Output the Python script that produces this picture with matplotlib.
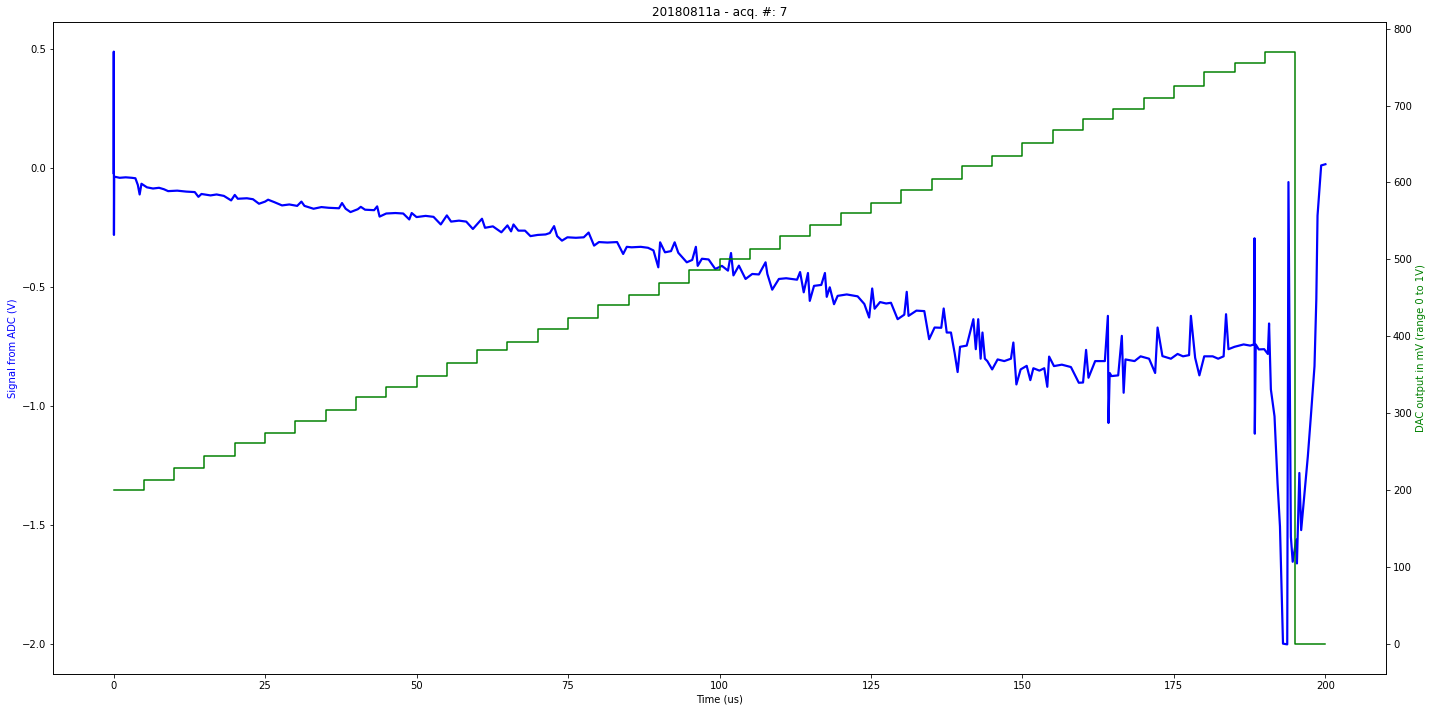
import matplotlib
matplotlib.use("Agg")
import matplotlib.pyplot as plt

# Blue ADC signal (time in us, value in V)
sig_t = [0.0, 0.03, 0.06, 0.1, 1.0, 2.0, 3.0, 3.6, 4.0, 4.3, 4.6, 5.5, 6.5, 7.5, 8.3,
         9.0, 10.5, 12.0, 13.4, 14.0, 14.5, 16.0, 17.0, 18.2, 19.4, 20.0, 20.5, 22.0,
         23.0, 24.0, 25.0, 25.5, 26.5, 27.8, 29.0, 30.3, 31.0, 31.5, 33.0, 34.3, 35.5,
         37.2, 37.7, 38.3, 39.1, 40.3, 40.8, 41.5, 43.0, 43.5, 43.9, 45.0, 46.5, 47.8,
         48.8, 49.2, 50.0, 51.5, 52.8, 54.0, 55.0, 55.7, 57.0, 58.2, 59.3, 60.8, 61.3,
         62.6, 64.0, 65.0, 65.6, 66.0, 66.8, 67.9, 68.8, 70.0, 71.3, 72.0, 72.7, 73.2,
         74.0, 74.9, 76.3, 77.6, 78.4, 79.3, 80.1, 81.5, 83.1, 84.1, 84.7, 85.5, 87.0,
         88.2, 89.1, 89.9, 90.2, 91.0, 92.0, 92.6, 93.2, 94.6, 95.5, 96.1, 96.4, 97.1,
         98.2, 99.3, 100.4, 101.4, 101.9, 102.3, 103.2, 104.3, 105.4, 106.5, 107.6,
         107.9, 108.7, 109.8, 111.0, 112.8, 113.3, 113.9, 114.6, 114.9, 115.6, 116.8,
         117.4, 117.7, 118.2, 118.9, 119.5, 121.0, 122.8, 123.9, 124.7, 125.2, 125.6,
         126.5, 127.5, 128.3, 129.4, 130.5, 130.9, 131.2, 132.5, 133.8, 134.6, 135.5,
         136.6, 137.0, 137.5, 138.2, 138.8, 139.3, 139.7, 140.8, 141.9, 142.3, 142.7,
         143.1, 143.4, 143.8, 144.2, 145.0, 145.9, 147.0, 148.1, 148.5, 149.0, 149.7,
         150.7, 151.3, 151.8, 152.8, 153.6, 154.1, 154.4, 155.2, 156.5, 158.0, 159.3,
         160.0, 160.5, 160.9, 162.0, 163.6, 164.1, 164.2, 164.4, 164.7, 165.8, 166.4,
         166.7, 167.0, 168.5, 169.5, 170.9, 171.9, 172.3, 173.1, 174.5, 175.6, 176.5,
         177.5, 177.8, 178.5, 179.2, 180.0, 181.4, 182.3, 183.2, 183.6, 184.0, 185.0,
         186.5, 187.6, 188.2, 188.3, 188.35, 188.5, 189.0, 189.9, 190.5, 190.7, 191.0,
         191.6, 192.1, 192.5, 193.0, 193.7, 193.9, 194.3, 194.6, 195.2, 195.3, 195.7,
         196.0, 196.5, 197.1, 197.6, 198.2, 198.5, 198.7, 199.3, 200.0]
sig_v = [-0.02, 0.49, -0.28, -0.035, -0.04, -0.038, -0.04, -0.042, -0.07, -0.11, -0.065,
         -0.08, -0.085, -0.082, -0.088, -0.096, -0.094, -0.098, -0.1, -0.12, -0.108,
         -0.114, -0.11, -0.116, -0.135, -0.112, -0.128, -0.126, -0.13, -0.149, -0.14,
         -0.132, -0.142, -0.156, -0.152, -0.158, -0.14, -0.158, -0.17, -0.163, -0.166,
         -0.168, -0.146, -0.17, -0.184, -0.172, -0.162, -0.174, -0.176, -0.16, -0.203,
         -0.19, -0.188, -0.19, -0.215, -0.188, -0.205, -0.2, -0.204, -0.236, -0.198,
         -0.224, -0.22, -0.224, -0.255, -0.212, -0.25, -0.244, -0.269, -0.24, -0.265,
         -0.236, -0.262, -0.262, -0.285, -0.28, -0.278, -0.272, -0.243, -0.285, -0.304,
         -0.29, -0.292, -0.29, -0.27, -0.325, -0.31, -0.312, -0.31, -0.36, -0.33, -0.332,
         -0.33, -0.334, -0.345, -0.416, -0.311, -0.353, -0.348, -0.311, -0.355, -0.395,
         -0.385, -0.33, -0.41, -0.38, -0.383, -0.423, -0.41, -0.43, -0.356, -0.45, -0.409,
         -0.465, -0.444, -0.446, -0.395, -0.444, -0.51, -0.465, -0.462, -0.468, -0.436,
         -0.521, -0.44, -0.557, -0.494, -0.49, -0.44, -0.54, -0.5, -0.571, -0.536, -0.53,
         -0.538, -0.57, -0.627, -0.505, -0.59, -0.562, -0.568, -0.565, -0.634, -0.615,
         -0.519, -0.62, -0.598, -0.6, -0.718, -0.669, -0.67, -0.589, -0.69, -0.69, -0.775,
         -0.856, -0.75, -0.745, -0.634, -0.76, -0.634, -0.8, -0.69, -0.8, -0.81, -0.845,
         -0.803, -0.81, -0.8, -0.732, -0.908, -0.845, -0.83, -0.89, -0.84, -0.85, -0.84,
         -0.918, -0.791, -0.831, -0.825, -0.835, -0.901, -0.9, -0.763, -0.88, -0.81,
         -0.81, -0.62, -1.07, -0.86, -0.873, -0.87, -0.704, -0.943, -0.803, -0.81, -0.79,
         -0.8, -0.86, -0.669, -0.789, -0.8, -0.78, -0.79, -0.785, -0.62, -0.796, -0.87,
         -0.79, -0.79, -0.8, -0.79, -0.613, -0.76, -0.75, -0.74, -0.745, -0.74, -0.294,
         -1.115, -0.74, -0.761, -0.76, -0.78, -0.652, -0.929, -1.042, -1.323, -1.505,
         -1.997, -2.0, -0.058, -1.548, -1.653, -1.56, -1.66, -1.28, -1.52, -1.379, -1.21,
         -1.042, -0.831, -0.55, -0.199, 0.012, 0.017]

# Green DAC output steps (mV), one value per 5 us interval
dac_t = [0, 5, 10, 15, 20, 25, 30, 35, 40, 45, 50, 55, 60, 65, 70, 75, 80, 85, 90, 95,
         100, 105, 110, 115, 120, 125, 130, 135, 140, 145, 150, 155, 160, 165, 170, 175,
         180, 185, 190, 195, 200]
dac_v = [200, 213, 229, 245, 261, 274, 290, 305, 321, 334, 349, 366, 382, 393, 410, 424,
         441, 454, 470, 486, 501, 514, 530, 545, 561, 574, 590, 605, 622, 635, 651, 668,
         682, 695, 710, 726, 743, 755, 770, 0, 0]

DPI = 72
fig = plt.figure(figsize=(1432/DPI, 712/DPI), dpi=DPI)
ax1 = fig.add_axes([53/1432, 1-674/712, (1386-53)/1432, (674-22)/712])
ax1.plot(sig_t, sig_v, color='blue', lw=2.2)
ax1.set_xlabel('Time (us)')
ax1.set_ylabel('Signal from ADC (V)', color='blue')
ax1.set_title('20180811a - acq. #: 7')

ax2 = ax1.twinx()
ax2.step(dac_t, dac_v, where='post', color='green', lw=1.5)
ax2.set_ylabel('DAC output in mV (range 0 to 1V)', color='green')

fig.savefig('out.png', dpi=DPI)
